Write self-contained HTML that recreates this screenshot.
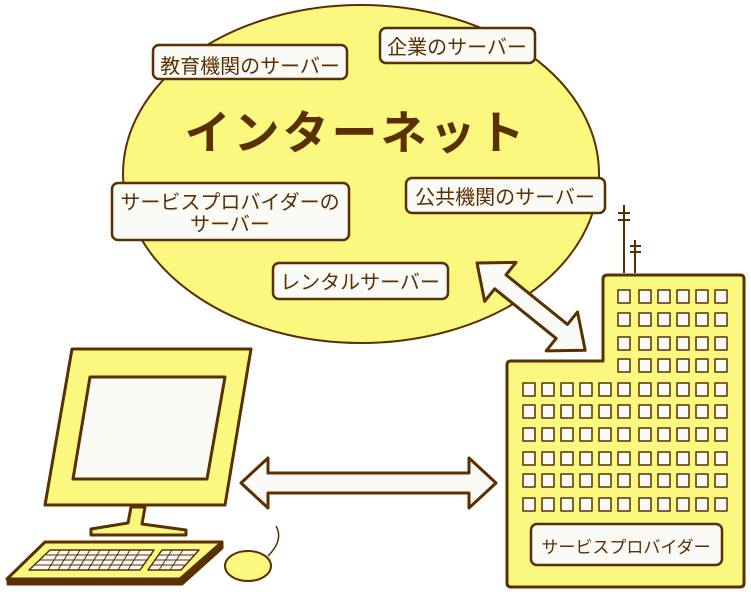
<!DOCTYPE html>
<html><head><meta charset="utf-8"><style>
body{margin:0;background:#fff;}
svg{display:block;}
text{font-family:"Liberation Sans","Noto Sans CJK JP",sans-serif;fill:#5a3000;}
</style></head><body>
<svg width="751" height="594" viewBox="0 0 751 594" xmlns="http://www.w3.org/2000/svg">
<g stroke="#5a3000" stroke-width="3" stroke-linejoin="round">
<ellipse cx="361" cy="174" rx="238" ry="169" fill="#fbf880" stroke-width="2"/>
<g fill="#fafaf7" stroke-width="2.5">
<rect x="153" y="45" width="194" height="34" rx="6"/>
<rect x="380" y="28" width="155" height="35" rx="6"/>
<rect x="112" y="183" width="237" height="57" rx="6"/>
<rect x="406" y="178" width="199" height="35" rx="6"/>
<rect x="273" y="263" width="175" height="36" rx="6"/>
</g>
<g transform="translate(477,263) rotate(38.9)">
<polygon fill="#fafaf7" points="0,0 30,-25 30,-9 109,-9 109,-25 139,0 109,25 109,9 30,9 30,25"/>
</g>
<path d="M624 273 V205 M618 213 H630 M618 220 H630 M635 273 V240 M630 246 H641 M630 252 H641" fill="none" stroke-width="2"/>
<path d="M608 275 H740 Q744 275 744 279 V583 Q744 587 740 587 H511 Q507 587 507 583 V365 Q507 361 511 361 H603 V279 Q603 275 608 275 Z" fill="#fbf880"/>
<g fill="#fafaf7" stroke-width="1.5">
<g id="t"><rect x="618" y="290" width="12" height="13"/><rect x="639" y="290" width="12" height="13"/><rect x="658" y="290" width="12" height="13"/><rect x="677" y="290" width="12" height="13"/><rect x="696" y="290" width="12" height="13"/><rect x="715" y="290" width="12" height="13"/></g>
<use href="#t" y="23"/><use href="#t" y="47"/><use href="#t" y="69"/>
</g>
<g fill="#fafaf7" stroke-width="1.5">
<g id="r"><rect x="523" y="383" width="12" height="13"/><rect x="542" y="383" width="12" height="13"/><rect x="561" y="383" width="12" height="13"/><rect x="580" y="383" width="12" height="13"/><rect x="599" y="383" width="12" height="13"/><rect x="618" y="383" width="12" height="13"/><rect x="639" y="383" width="12" height="13"/><rect x="658" y="383" width="12" height="13"/><rect x="677" y="383" width="12" height="13"/><rect x="696" y="383" width="12" height="13"/><rect x="715" y="383" width="12" height="13"/></g>
<use href="#r" y="22"/><use href="#r" y="45"/><use href="#r" y="69"/><use href="#r" y="91"/><use href="#r" y="115"/>
</g>
<rect x="531" y="524" width="191" height="41" rx="6" fill="#fafaf7" stroke-width="2.5"/>
<polygon fill="#fafaf7" points="241,483 268,458 268,473 469,473 469,458 496,483 469,508 469,493 268,493 268,508"/>
<polygon fill="#fbf880" points="72,349 251,349 225,505 45,505"/>
<polygon fill="#fafaf7" points="90,377 225,377 207,479 73,479"/>
<polygon fill="#fbf880" points="131,507 145,507 142,524 186,530 186,535 91,535 91,529 128,523"/>
<polygon fill="#5a3000" points="8,579 180,579 222,543 222,548 182,584 8,584"/>
<polygon fill="#fbf880" points="45,542 222,542 180,579 7,579"/>
<polygon fill="#fafaf7" stroke-width="1.5" points="50,550 154,550 140,570 29,570"/>
<polygon fill="#fafaf7" stroke-width="1.5" points="162,550 199,550 181,570 148,570"/>
<g stroke-width="1" fill="none">
<path d="M46,555 H152 M40,560 H148 M35,565 H144 M158,555 H195 M154,560 H191 M151,565 H186"/>
<path d="M60,550 L48,570 M70,550 L58,570 M80,550 L68,570 M90,550 L78,570 M100,550 L88,570 M110,550 L98,570 M120,550 L108,570 M130,550 L118,570 M140,550 L128,570 M172,550 L159,570 M183,550 L170,570"/>
</g>
<ellipse cx="248" cy="566" rx="23" ry="15" fill="#fbf880" stroke-width="2"/>
<path d="M268,556 Q284,540 276,526" fill="none" stroke-width="1.5"/>
</g>
<text x="250" y="73" font-size="20" text-anchor="middle">教育機関のサーバー</text>
<text x="457" y="54" font-size="20" text-anchor="middle">企業のサーバー</text>
<text x="230" y="209" font-size="20" text-anchor="middle">サービスプロバイダーの</text>
<text x="230" y="231" font-size="20" text-anchor="middle">サーバー</text>
<text x="505" y="204" font-size="20" text-anchor="middle">公共機関のサーバー</text>
<text x="360" y="289" font-size="20" text-anchor="middle">レンタルサーバー</text>
<text x="356" y="149" font-size="46" font-weight="bold" letter-spacing="3" text-anchor="middle">インターネット</text>
<text x="626" y="553" font-size="17" text-anchor="middle">サービスプロバイダー</text>
</svg>
</body></html>
